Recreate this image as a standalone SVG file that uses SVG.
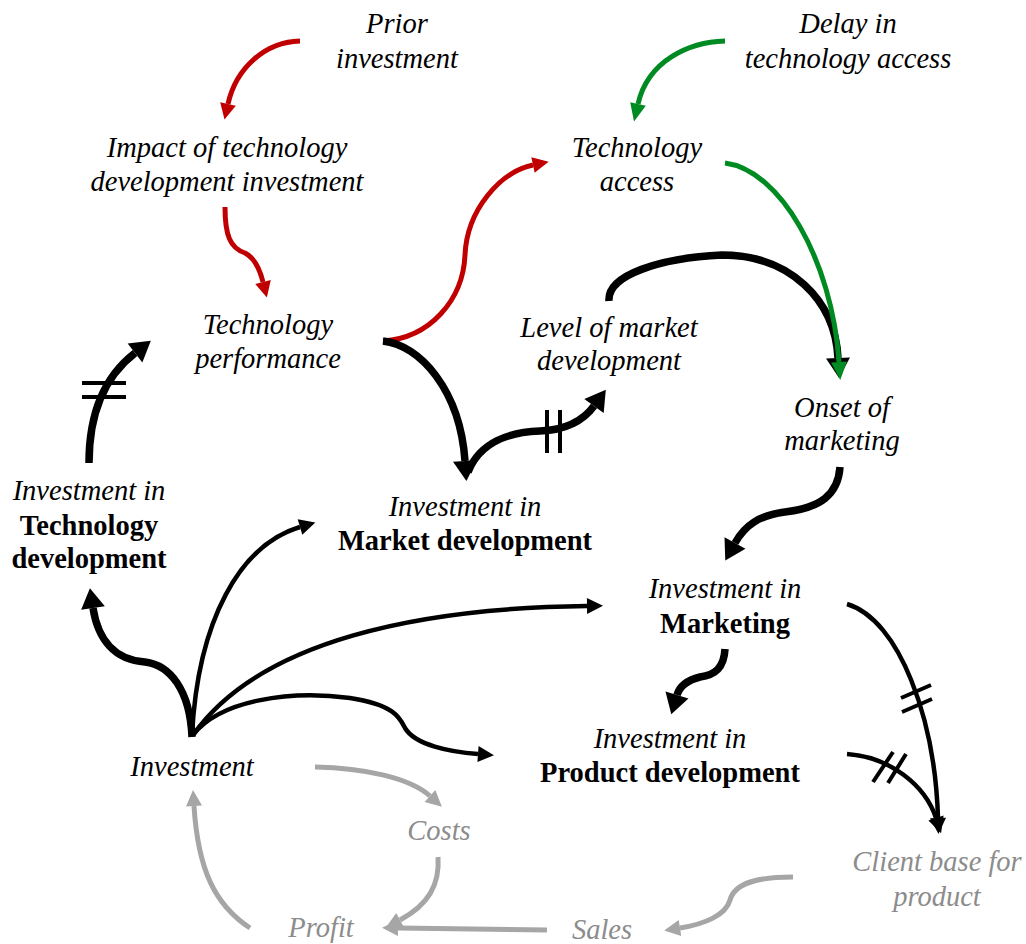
<svg xmlns="http://www.w3.org/2000/svg" width="1026" height="944" viewBox="0 0 1026 944">
<style>
text{font-family:"Liberation Serif","Times New Roman",serif;font-size:28.5px;text-anchor:middle;fill:#000}
.i{font-style:italic}
.b{font-weight:bold}
.g{fill:#8C8C8C;font-style:italic}
.c{fill:none;stroke-linecap:butt}
.red{stroke:#C00000;stroke-width:5}
.grn{stroke:#008A22;stroke-width:5}
.bk{stroke:#000;stroke-width:7.5}
.bs{stroke:#000;stroke-width:4.5}
.gr{stroke:#A6A6A6;stroke-width:5}
.dl{stroke:#000;stroke-width:4;fill:none}
</style>
<defs>
<marker id="mRed" markerUnits="userSpaceOnUse" orient="auto" refX="0" refY="0" markerWidth="30" markerHeight="30" overflow="visible"><path d="M0,-8 L16,0 L0,8 z" fill="#C00000"/></marker>
<marker id="mGrn" markerUnits="userSpaceOnUse" orient="auto" refX="0" refY="0" markerWidth="30" markerHeight="30" overflow="visible"><path d="M0,-8 L18,0 L0,8 z" fill="#008A22"/></marker>
<marker id="mBk" markerUnits="userSpaceOnUse" orient="auto" refX="0" refY="0" markerWidth="30" markerHeight="30" overflow="visible"><path d="M0,-12 L20,0 L0,12 z" fill="#000"/></marker>
<marker id="mBs" markerUnits="userSpaceOnUse" orient="auto" refX="0" refY="0" markerWidth="30" markerHeight="30" overflow="visible"><path d="M0,-8 L16,0 L0,8 z" fill="#000"/></marker>
<marker id="mGr" markerUnits="userSpaceOnUse" orient="auto" refX="0" refY="0" markerWidth="30" markerHeight="30" overflow="visible"><path d="M0,-8 L16,0 L0,8 z" fill="#A6A6A6"/></marker>
</defs>
<g id="connectors">
<path class="c red" d="M300,41 C265,42 236,68 228,104" marker-end="url(#mRed)"/>
<path class="c red" d="M225,207 C225,235 230,248 245,253 C255,258 260,270 263,282" marker-end="url(#mRed)"/>
<path class="c red" d="M383,341 C430,338 463,300 465,255 C467,210 500,172 533,165" marker-end="url(#mRed)"/>
<path class="c grn" d="M725,41 C690,42 648,60 638,104" marker-end="url(#mGrn)"/>
<path class="c bk" d="M609,301 C607,275 660,258 722,255 C790,255 835,300 838,358" marker-end="url(#mBk)"/>
<path class="c grn" d="M725,163 C780,170 832,260 839,362" marker-end="url(#mGrn)"/>
<path class="c bk" d="M383,341 C420,345 460,390 465,461" marker-end="url(#mBk)"/>
<path class="c bk" d="M468,472 C480,442 510,432 540,431 C565,430 583,421 594,406" marker-end="url(#mBk)"/>
<path class="dl" d="M547,410 L547,453 M560,410 L560,453"/>
<path class="c bk" d="M89,463 C89,420 100,380 135,353" marker-end="url(#mBk)"/>
<path class="dl" d="M82,383 L126,383 M82,397 L126,397"/>
<path class="c bk" d="M192,737 C190,690 170,665 145,662 C115,660 98,640 93,608" marker-end="url(#mBk)"/>
<path class="c bs" d="M192,735 C198,620 240,545 300,527" marker-end="url(#mBs)"/>
<path class="c bs" d="M193,735 C260,640 420,608 587,606" marker-end="url(#mBs)"/>
<path class="c bs" d="M193,735 C220,700 290,690 350,698 C395,705 400,718 405,728 C415,745 450,752 478,754" marker-end="url(#mBs)"/>
<path class="c bk" d="M840,467 C838,495 820,508 785,512 C760,515 745,525 735,543" marker-end="url(#mBk)"/>
<path class="c bk" d="M725,649 C724,668 715,675 700,677 C688,680 680,685 677,695" marker-end="url(#mBk)"/>
<path class="c bs" d="M847,604 C900,620 935,720 938,818" marker-end="url(#mBs)"/>
<path class="dl" d="M901,698 L931,685 M902,712 L932,699"/>
<path class="c bs" d="M847,754 C890,757 925,785 936,818" marker-end="url(#mBs)"/>
<path class="dl" d="M873,782 L893,752 M888,783 L906,754"/>
<path class="c gr" d="M315,767 C365,768 410,778 430,796" marker-end="url(#mGr)"/>
<path class="c gr" d="M438,857 C440,885 428,905 400,920" marker-end="url(#mGr)"/>
<path class="c gr" d="M547,930 L398,928" marker-end="url(#mGr)"/>
<path class="c gr" d="M793,877 C760,877 735,882 730,900 C726,915 705,924 680,928" marker-end="url(#mGr)"/>
<path class="c gr" d="M250,928 C215,905 198,870 194,806" marker-end="url(#mGr)"/>
</g>
<g id="prior-investment"><text class="i" x="397" y="33">Prior</text><text class="i" x="397" y="68">investment</text></g>
<g id="delay-tech-access"><text class="i" x="848" y="33">Delay in</text><text class="i" x="848" y="68">technology access</text></g>
<g id="impact-tech-inv"><text class="i" x="227" y="157">Impact of technology</text><text class="i" x="227" y="191">development investment</text></g>
<g id="tech-access"><text class="i" x="637" y="157">Technology</text><text class="i" x="637" y="191">access</text></g>
<g id="tech-performance"><text class="i" x="268" y="334">Technology</text><text class="i" x="268" y="368">performance</text></g>
<g id="level-market-dev"><text class="i" x="609" y="337">Level of market</text><text class="i" x="609" y="370">development</text></g>
<g id="onset-marketing"><text class="i" x="842" y="417">Onset of</text><text class="i" x="842" y="450">marketing</text></g>
<g id="inv-tech-dev"><text class="i" x="89" y="500">Investment in</text><text class="b" x="89" y="535">Technology</text><text class="b" x="89" y="568">development</text></g>
<g id="inv-market-dev"><text class="i" x="465" y="516">Investment in</text><text class="b" x="465" y="550">Market development</text></g>
<g id="inv-marketing"><text class="i" x="725" y="598">Investment in</text><text class="b" x="725" y="633">Marketing</text></g>
<g id="inv-product-dev"><text class="i" x="670" y="748">Investment in</text><text class="b" x="670" y="782">Product development</text></g>
<g id="investment"><text class="i" x="192" y="776">Investment</text></g>
<g id="costs"><text class="g" x="439" y="840">Costs</text></g>
<g id="client-base"><text class="g" x="937" y="871">Client base for</text><text class="g" x="937" y="906">product</text></g>
<g id="profit"><text class="g" x="321" y="937">Profit</text></g>
<g id="sales"><text class="g" x="602" y="939">Sales</text></g>
</svg>
